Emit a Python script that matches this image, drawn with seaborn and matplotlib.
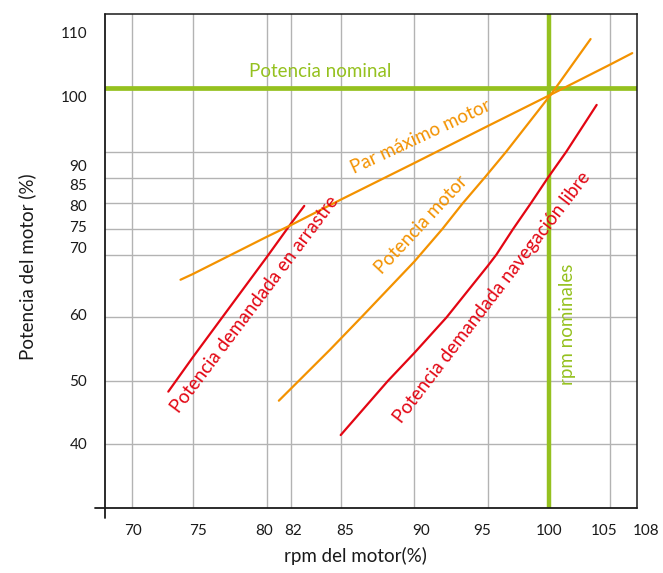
import numpy as np
import seaborn as sns
import matplotlib.pyplot as plt
from matplotlib.transforms import ScaledTranslation

# Curves: rpm del motor (%) vs potencia del motor (%)
par_rpm = [74.0, 75, 80, 82, 85, 90, 95, 100, 105, 107.5]
par_pot = [66.0, 66.9, 73.5, 75.8, 80.7, 87.8, 94.6, 100.1, 104.9, 106.7]

motor_rpm = [81.0, 84.35, 86.4, 90, 91.9, 93.3, 94.8, 96.5, 100.2, 103.4]
motor_pot = [46.85, 54.9, 60, 68.9, 75, 80, 85, 90, 100.4, 108.9]

arrastre_rpm = [73.0, 75, 77.0, 80, 82, 82.8]
arrastre_pot = [48.3, 53.7, 60, 69.6, 76.1, 79.5]

libre_rpm = [85.0, 88.2, 90, 92.2, 95, 95.7, 97.05, 98.5, 99.9, 101.4, 103.9]
libre_pot = [41.35, 50, 54.4, 60, 68.2, 70, 75, 80, 85, 90, 98.4]

potencia_nominal = 101.2
rpm_nominales = 100

x_ticks = [70, 75, 80, 82, 85, 90, 95, 100, 105, 108]
y_ticks = [40, 50, 60, 70, 75, 80, 85, 90, 100, 110]
x_grid = [70, 75, 80, 82, 85, 90, 95, 105]
y_grid = [40, 50, 60, 70, 75, 80, 85, 90]

# The printed axes are not evenly spaced, so build a scale from where each value sits
# (pixels from the left edge / from the bottom edge of the figure)
x_scale_vals = [60, 70, 75, 80, 82, 85, 90, 95, 100, 105, 108, 120]
x_scale_px = [9.7, 131.7, 192.7, 266.7, 291, 340.7, 414.3, 487.7, 549.3, 610, 636.7, 743]
y_scale_vals = [0, 40, 50, 60, 70, 75, 80, 85, 90, 100, 110, 150]
y_scale_px = [-120.5, 129.5, 192, 255.7, 318.3, 343.8, 369.7, 395.5, 421.3, 477, 541, 797]

def fwd_x(v):
    return np.interp(v, x_scale_vals, x_scale_px)

def inv_x(p):
    return np.interp(p, x_scale_px, x_scale_vals)

def fwd_y(v):
    return np.interp(v, y_scale_vals, y_scale_px)

def inv_y(p):
    return np.interp(p, y_scale_px, y_scale_vals)

green = '#95c11f'
orange = '#f39200'
red = '#e30613'
grid_col = '#b3b3b3'

sns.set_theme(style='white')
plt.rcParams['font.family'] = ['Lato', 'DejaVu Sans']

fig = plt.figure(figsize=(6.63, 5.73), dpi=100)
ax = fig.add_axes([105.3 / 663, 64.7 / 573, 531.4 / 663, 494.3 / 573])
ax.set_xscale('function', functions=(fwd_x, inv_x))
ax.set_yscale('function', functions=(fwd_y, inv_y))
ax.set_xlim(inv_x(105.3), inv_x(636.7))
ax.set_ylim(inv_y(64.7), inv_y(559))

for v in x_grid:
    ax.axvline(v, color=grid_col, lw=1.0, zorder=1)
for v in y_grid:
    ax.axhline(v, color=grid_col, lw=1.0, zorder=1)

ax.axhline(potencia_nominal, color=green, lw=3.4, zorder=2)
ax.axvline(rpm_nominales, color=green, lw=3.2, zorder=2)

sns.lineplot(x=arrastre_rpm, y=arrastre_pot, color=red, linewidth=1.6, sort=False, ax=ax, zorder=3)
sns.lineplot(x=libre_rpm, y=libre_pot, color=red, linewidth=1.6, sort=False, ax=ax, zorder=3)
sns.lineplot(x=motor_rpm, y=motor_pot, color=orange, linewidth=1.6, sort=False, ax=ax, zorder=3)
sns.lineplot(x=par_rpm, y=par_pot, color=orange, linewidth=1.6, sort=False, ax=ax, zorder=3)

# curve labels
txt = dict(fontsize=13.5, ha='center', va='center', rotation_mode='anchor', zorder=4)
ax.text(83.75, 103.9, 'Potencia nominal', color=green, **txt)
ax.text(90.4, 92.6, 'Par máximo motor', color=orange, rotation=25, **txt)
ax.text(90.5, 75.8, 'Potencia motor', color=orange, rotation=47, **txt)
ax.text(79.2, 62.0, 'Potencia demandada en arrastre', color=red, rotation=53, **txt)
ax.text(95.35, 63.2, 'Potencia demandada navegación libre', color=red, rotation=52.5, **txt)
ax.text(101.5, 58.9, 'rpm nominales', color=green, rotation=90, **txt)

ax.set_xticks(x_ticks)
ax.set_xticklabels([str(v) for v in x_ticks])
ax.set_yticks(y_ticks)
ax.set_yticklabels([str(v) for v in y_ticks])
ax.tick_params(axis='both', length=0, labelsize=11, colors='#1a1a1a')
ax.tick_params(axis='y', pad=13)
ax.tick_params(axis='x', pad=11)

# the printed labels sit a little off their grid lines
x_shift = {70: 1, 75: 5, 80: -3, 82: 2.5, 85: 4, 90: 7, 95: -6, 100: 0, 105: -6, 108: 9}
y_shift = {40: 0, 50: -1, 60: -3, 70: -7, 75: -3, 80: 2, 85: 7, 90: 14, 100: 1, 110: 0}
for v, lab in zip(x_ticks, ax.get_xticklabels()):
    lab.set_transform(lab.get_transform() + ScaledTranslation(x_shift[v] / 100, 0, fig.dpi_scale_trans))
for v, lab in zip(y_ticks, ax.get_yticklabels()):
    lab.set_transform(lab.get_transform() + ScaledTranslation(0, -y_shift[v] / 100, fig.dpi_scale_trans))

ax.set_xlabel('rpm del motor(%)', fontsize=13.5, color='#1a1a1a')
ax.set_ylabel('Potencia del motor (%)', fontsize=13.5, color='#1a1a1a')
ax.xaxis.set_label_coords(0.4705, -0.078)
ax.yaxis.set_label_coords(-0.13, 0.489)

for side in ['top', 'right']:
    ax.spines[side].set_color('#1a1a1a')
    ax.spines[side].set_linewidth(1.1)
ax.spines['left'].set_visible(False)
ax.spines['bottom'].set_visible(False)
# left and bottom axis lines run a little past the corner
ax.plot([0, 0], [-0.0196, 1], transform=ax.transAxes, color='#1a1a1a', lw=1.3, clip_on=False, zorder=5)
ax.plot([-0.0194, 1], [0, 0], transform=ax.transAxes, color='#1a1a1a', lw=1.3, clip_on=False, zorder=5)

plt.savefig('out.png', dpi=100)
